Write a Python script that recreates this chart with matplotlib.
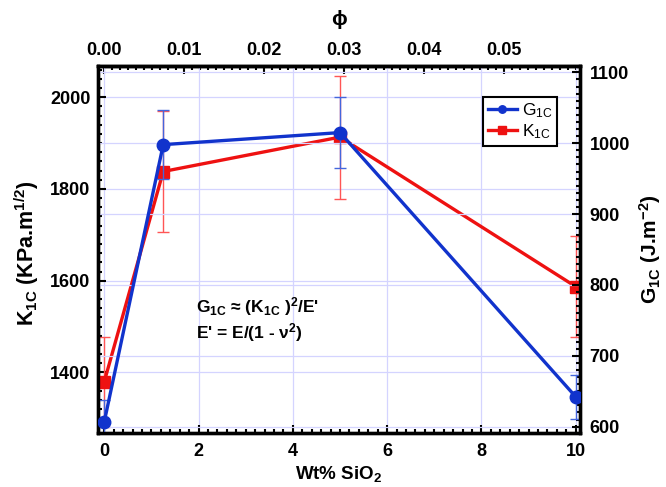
import matplotlib
matplotlib.use("Agg")
import matplotlib.pyplot as plt
from matplotlib.ticker import MultipleLocator, FormatStrFormatter

# data
wt = [0, 1.25, 5, 10]
k1c = [1380, 1838, 1913, 1587]
k1c_err = [98, 131, 134, 110]
g1c = [607, 998, 1015, 642]
g1c_err = [30, 49, 50, 31]
phi_per_wt = 0.0059

plt.rcParams['font.family'] = ['Liberation Sans', 'DejaVu Sans']
plt.rcParams['font.weight'] = 'bold'
plt.rcParams['axes.labelweight'] = 'bold'
plt.rcParams['mathtext.default'] = 'regular'

red = '#ee1111'
blue = '#1133cc'
grid_c = '#d4d4ff'

fig = plt.figure(figsize=(6.66, 4.87), dpi=100)
ax = fig.add_axes([0.1464, 0.1109, 0.7245, 0.7536])
ax2 = ax.twinx()

# K1C on left axis
ax.errorbar(wt, k1c, yerr=k1c_err, fmt='none', ecolor='#ff5555',
            elinewidth=1, capsize=4, capthick=1, zorder=2)
lk, = ax.plot(wt, k1c, 's-', color=red, lw=2.4, ms=9, zorder=3)

# G1C on right axis
ax2.errorbar(wt, g1c, yerr=g1c_err, fmt='none', ecolor='#4466dd',
             elinewidth=1, capsize=4, capthick=1, zorder=2)
lg, = ax2.plot(wt, g1c, 'o-', color=blue, lw=2.4, ms=9, zorder=3)

ax.set_xlim(-0.144, 10.09)
ax.set_ylim(1268, 2068)
ax2.set_ylim(591, 1109)

ax.xaxis.set_major_locator(MultipleLocator(2))
ax.xaxis.set_minor_locator(MultipleLocator(0.2))
ax.yaxis.set_major_locator(MultipleLocator(200))
ax.yaxis.set_minor_locator(MultipleLocator(20))
ax2.yaxis.set_major_locator(MultipleLocator(100))
ax2.yaxis.set_minor_locator(MultipleLocator(10))

ax.grid(True, which='major', color=grid_c, lw=0.9)
ax2.grid(True, which='major', axis='y', color=grid_c, lw=0.9)
ax.set_axisbelow(True)
ax2.set_axisbelow(True)

for a in (ax, ax2):
    for s in a.spines.values():
        s.set_linewidth(2.4)

ax.tick_params(which='both', direction='in', top=False, right=False,
               labelsize=13, width=1.5)
ax.tick_params(which='major', length=6)
ax.tick_params(which='minor', length=3)
ax.tick_params(axis='x', pad=7)
ax.tick_params(axis='y', pad=5)
ax2.tick_params(which='both', direction='in', labelsize=13, width=1.5, pad=7)
ax2.tick_params(which='major', length=6)
ax2.tick_params(which='minor', length=3)

# top phi axis
top = ax.secondary_xaxis('top', functions=(lambda x: x * phi_per_wt,
                                             lambda p: p / phi_per_wt))
top.xaxis.set_major_locator(MultipleLocator(0.01))
top.xaxis.set_minor_locator(MultipleLocator(0.001))
top.xaxis.set_major_formatter(FormatStrFormatter('%.2f'))
top.tick_params(which='both', direction='in', labelsize=13, width=1.5, pad=5)
top.tick_params(which='major', length=6)
top.tick_params(which='minor', length=3)
top.spines['top'].set_linewidth(2.4)
top.set_xlabel('ϕ', fontsize=15, labelpad=12)

ax.set_xlabel('Wt% SiO$_2$', fontsize=13.5, labelpad=3)
ax.set_ylabel('K$_{1C}$ (KPa.m$^{1/2}$)', fontsize=15.5)
ax.yaxis.set_label_coords(-0.118, 0.49)
ax2.set_ylabel('G$_{1C}$ (J.m$^{-2}$)', fontsize=15, labelpad=5)

ax.text(0.205, 0.345, "G$_{1C}$ ≈ (K$_{1C}$ )$^2$/E'", transform=ax.transAxes,
        fontsize=12.5, va='center')
ax.text(0.205, 0.275, "E' = E/(1 - ν$^2$)", transform=ax.transAxes,
        fontsize=12.5, va='center')

leg = ax2.legend([lg, lk], ['G$_{1C}$', 'K$_{1C}$'], loc='upper right',
                 bbox_to_anchor=(0.953, 0.916), borderaxespad=0,
                 fancybox=False, edgecolor='black', framealpha=1,
                 markerscale=0.6, handlelength=1.7, handletextpad=0.3,
                 borderpad=0.25, labelspacing=0.15,
                 prop={'size': 12.5, 'weight': 'normal'})
leg.get_frame().set_linewidth(1.5)

fig.savefig('out.png', dpi=100)
